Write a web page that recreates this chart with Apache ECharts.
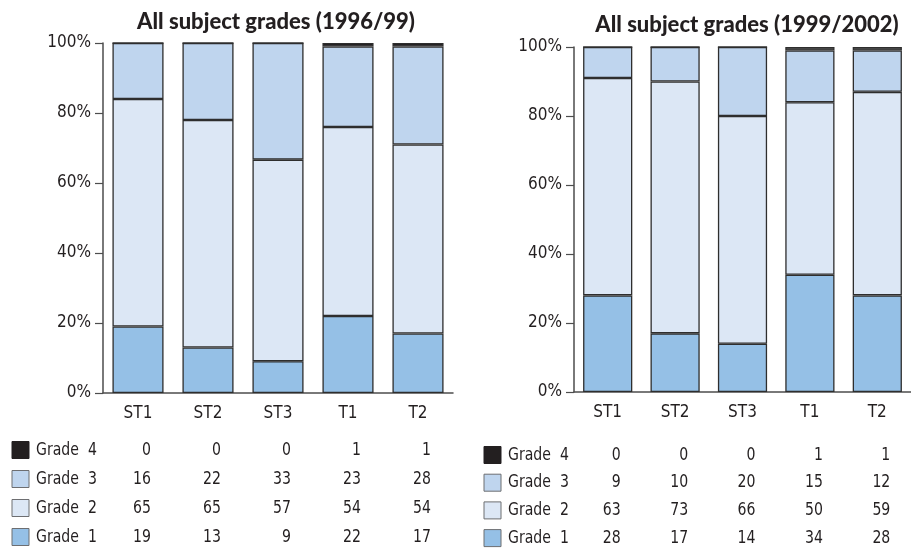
<!DOCTYPE html>
<html>
<head>
<meta charset="utf-8">
<script src="https://cdn.jsdelivr.net/npm/echarts@6/dist/echarts.min.js"></script>
<style>
  html, body { margin: 0; padding: 0; background: #fff; }
  #chart { width: 911px; height: 551px; }
</style>
</head>
<body>
<div id="chart"></div>
<script>
// Subjects along the x axis
const categories = ['ST1', 'ST2', 'ST3', 'T1', 'T2'];
const gradeNames = ['Grade 4', 'Grade 3', 'Grade 2', 'Grade 1'];
const yTicks = [0, 20, 40, 60, 80, 100];

// 1996/99 grade counts (per cent of entries)
const grade1_9699 = [19, 13, 9, 22, 17];
const grade2_9699 = [65, 65, 57, 54, 54];
const grade3_9699 = [16, 22, 33, 23, 28];
const grade4_9699 = [0, 0, 0, 1, 1];

// 1999/2002 grade counts (per cent of entries)
const grade1_9902 = [28, 17, 14, 34, 28];
const grade2_9902 = [63, 73, 66, 50, 59];
const grade3_9902 = [9, 10, 20, 15, 12];
const grade4_9902 = [0, 0, 0, 1, 1];

// narrow face for labels and tables
const FONT = '"DejaVu Sans", sans-serif';
const NARROW = 'condensed';
const INK = '#231f20';
const AXIS = '#4d4d4d';
const colors = {
  'Grade 1': '#95c0e6',
  'Grade 2': '#dce7f5',
  'Grade 3': '#bfd5ee',
  'Grade 4': '#231f20'
};

// Convert each column to a share of its total so every bar fills 0-100%
function shares(rows) {
  const totals = categories.map((_, i) => rows.reduce((s, r) => s + r[i], 0));
  return rows.map(r => r.map((v, i) => totals[i] ? v / totals[i] * 100 : 0));
}

const panels = [
  { title: 'All subject grades (1996/99)', rows: [grade1_9699, grade2_9699, grade3_9699, grade4_9699],
    grid: { left: 103, top: 43, width: 350, height: 350 }, top4: '#231f20' },
  { title: 'All subject grades (1999/2002)', rows: [grade1_9902, grade2_9902, grade3_9902, grade4_9902],
    grid: { left: 574, top: 47, width: 345, height: 345 }, top4: '#4f4f4f' }
];

const grids = [], xAxes = [], yAxes = [], series = [];
panels.forEach((p, k) => {
  grids.push(Object.assign({ containLabel: false }, p.grid));
  xAxes.push({
    type: 'category', gridIndex: k, data: categories,
    axisLine: { lineStyle: { color: AXIS, width: 1.5 } },
    axisTick: { inside: true, length: 9, lineStyle: { color: AXIS, width: 1.2 } },
    axisLabel: { fontFamily: FONT, fontWeight: NARROW, fontSize: 17, color: INK, margin: 12 }
  });
  yAxes.push({
    type: 'value', gridIndex: k, min: yTicks[0], max: yTicks[yTicks.length - 1], interval: 20,
    axisLine: { show: true, lineStyle: { color: AXIS, width: 1.5 } },
    axisTick: { show: true, length: 8, lineStyle: { color: AXIS, width: 1.2 } },
    splitLine: { show: false },
    axisLabel: { fontFamily: FONT, fontWeight: NARROW, fontSize: 17, color: INK, margin: 12, formatter: '{value}%' }
  });
  const sh = shares(p.rows);
  ['Grade 1', 'Grade 2', 'Grade 3', 'Grade 4'].forEach((g, j) => {
    series.push({
      name: g, type: 'bar', stack: 'p' + k, xAxisIndex: k, yAxisIndex: k,
      barWidth: '73%', data: sh[j],
      itemStyle: { color: g === 'Grade 4' ? p.top4 : colors[g], borderColor: '#2e2e2e', borderWidth: 1.3 },
      emphasis: { disabled: true }
    });
  });
});

const chart = echarts.init(document.getElementById('chart'), null, { renderer: 'canvas' });
chart.setOption({
  animation: false,
  grid: grids, xAxis: xAxes, yAxis: yAxes, series: series
});

// Titles and the data tables under each panel
const graphics = [];
const titleY = [22, 25];
const rowStart = [450, 455];
const rowStep = [29, 27.7];
const keyX = [12, 484];
const tableFont = NARROW + ' 18px ' + FONT;
const squeeze = 0.87;
panels.forEach((p, k) => {
  graphics.push({
    type: 'text', x: [276, 747][k], y: titleY[k],
    style: { text: p.title, font: '900 22px Lato, "Open Sans", sans-serif', fill: INK,
             textAlign: 'center', textVerticalAlign: 'middle' }
  });
  const byName = { 'Grade 1': p.rows[0], 'Grade 2': p.rows[1], 'Grade 3': p.rows[2], 'Grade 4': p.rows[3] };
  gradeNames.forEach((g, r) => {
    const y = rowStart[k] + r * rowStep[k];
    graphics.push({
      type: 'rect', shape: { x: keyX[k], y: y - 8.5, width: 17, height: 17 },
      style: { fill: colors[g], stroke: g === 'Grade 4' ? INK : '#6d6e71', lineWidth: 1 }
    });
    graphics.push({
      type: 'text', x: keyX[k] + 24, y: y, scaleX: squeeze,
      style: { text: g.replace(' ', '  '), font: tableFont, fill: INK, textVerticalAlign: 'middle' }
    });
    categories.forEach((c, i) => {
      const cx = chart.convertToPixel({ xAxisIndex: k }, c);
      graphics.push({
        type: 'text', x: cx + 13, y: y, scaleX: squeeze,
        style: { text: String(byName[g][i]), font: tableFont, fill: INK,
                 textAlign: 'right', textVerticalAlign: 'middle' }
      });
    });
  });
});
chart.setOption({ graphic: graphics });
</script>
</body>
</html>
